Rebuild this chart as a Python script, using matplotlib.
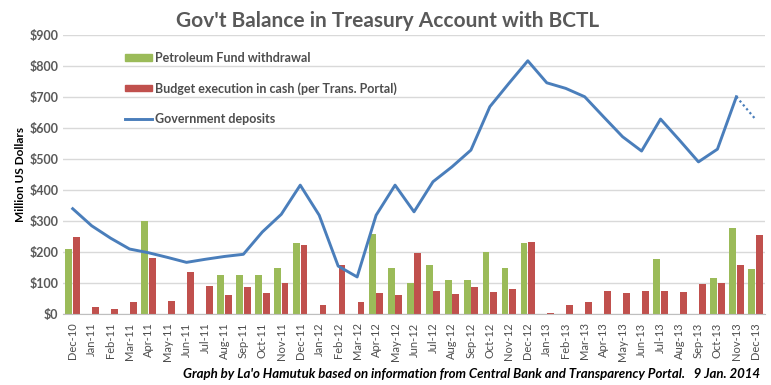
#!/usr/bin/env python3

import matplotlib as mpl
mpl.use("Agg")
from matplotlib import pyplot as plt
from matplotlib.patches import Patch
from matplotlib.lines import Line2D
import numpy as np

mpl.rcParams["font.family"] = ["Lato", "DejaVu Sans"]

# months shown on the x axis
months = ["Dec-10", "Jan-11", "Feb-11", "Mar-11", "Apr-11", "May-11", "Jun-11",
          "Jul-11", "Aug-11", "Sep-11", "Oct-11", "Nov-11", "Dec-11", "Jan-12",
          "Feb-12", "Mar-12", "Apr-12", "May-12", "Jun-12", "Jul-12", "Aug-12",
          "Sep-12", "Oct-12", "Nov-12", "Dec-12", "Jan-13", "Feb-13", "Mar-13",
          "Apr-13", "May-13", "Jun-13", "Jul-13", "Aug-13", "Sep-13", "Oct-13",
          "Nov-13", "Dec-13"]

# Petroleum Fund withdrawal (million US$)
pf_withdrawal = [210, 0, 0, 0, 300, 0, 0, 0, 125, 125, 125, 150, 230, 0, 0, 0,
                 260, 150, 100, 160, 110, 110, 200, 150, 230, 0, 0, 0, 0, 0, 0,
                 178, 0, 0, 118, 278, 147]

# Budget execution in cash (per Transparency Portal)
budget_cash = [248, 24, 18, 38, 180, 44, 137, 92, 61, 88, 69, 99, 223, 29, 158,
               38, 69, 61, 196, 75, 65, 86, 72, 82, 233, 5, 31, 38, 74, 67, 74,
               74, 71, 96, 101, 158, 255]

# Government deposits (last point is an estimate, drawn dotted)
gov_deposits = [340, 285, 245, 210, 198, 183, 167, 177, 186, 193, 265, 322,
                416, 319, 155, 120, 319, 416, 330, 427, 475, 529, 669, 744,
                817, 746, 728, 701, 636, 572, 526, 629, 561, 491, 532, 701, 629]

yticks = [0, 100, 200, 300, 400, 500, 600, 700, 800, 900]

green = "#9BBB59"
red = "#C0504D"
blue = "#4A7EBB"
grey = "#595959"

fig = plt.figure(figsize=(7.71, 3.85), dpi=100)
ax = fig.add_axes([0.082, 0.184, 0.910, 0.725])

x = np.arange(len(months))
w = 0.36
ax.bar(x - 0.2, pf_withdrawal, width=w, color=green, zorder=2)
ax.bar(x + 0.2, budget_cash, width=w, color=red, zorder=2)
ax.plot(x[:-1], gov_deposits[:-1], color=blue, lw=2.1, zorder=3)
ax.plot(x[-2:], gov_deposits[-2:], color=blue, lw=1.6, ls=(0, (1, 1.3)), zorder=3)

ax.set_xlim(-0.5, len(months) - 0.5)
ax.set_ylim(0, 900)
ax.set_yticks(yticks)
ax.set_yticklabels(["${}".format(v) for v in yticks], color=grey,
                   fontsize=9, fontweight="bold")
ax.set_xticks(x)
ax.set_xticklabels(months, rotation=90, color="#4d4d4d", fontsize=8)
ax.tick_params(axis="both", length=0)
ax.tick_params(axis="x", pad=6)
ax.grid(axis="y", color="#D9D9D9", lw=1, zorder=0)
for s in ["left", "right", "top"]:
    ax.spines[s].set_visible(False)
ax.spines["bottom"].set_color("#BFBFBF")

ax.set_ylabel("Million US Dollars", fontsize=8.5, fontweight="bold",
              color="black", labelpad=2)

handles = [Patch(color=green), Patch(color=red), Line2D([], [], color=blue, lw=2.1)]
labels = ["Petroleum Fund withdrawal", "Budget execution in cash (per Trans. Portal)",
          "Government deposits"]
leg = ax.legend(handles, labels, loc="upper left", bbox_to_anchor=(0.072, 0.98),
                frameon=False, fontsize=9, handlelength=2.2, handleheight=0.4,
                handletextpad=0.2, labelspacing=1.45)
for t in leg.get_texts():
    t.set_color("#4d4d4d")
    t.set_fontweight("bold")

fig.text(0.503, 0.945, "Gov't Balance in Treasury Account with BCTL",
         ha="center", va="center", fontsize=15, fontweight="bold", color=grey)
fig.text(0.986, 0.014,
         "Graph by La'o Hamutuk based on information from Central Bank and "
         "Transparency Portal.   9 Jan. 2014",
         ha="right", va="bottom", fontsize=9.5, fontweight="bold",
         style="italic", color="black")

fig.savefig("out.png", dpi=100)
